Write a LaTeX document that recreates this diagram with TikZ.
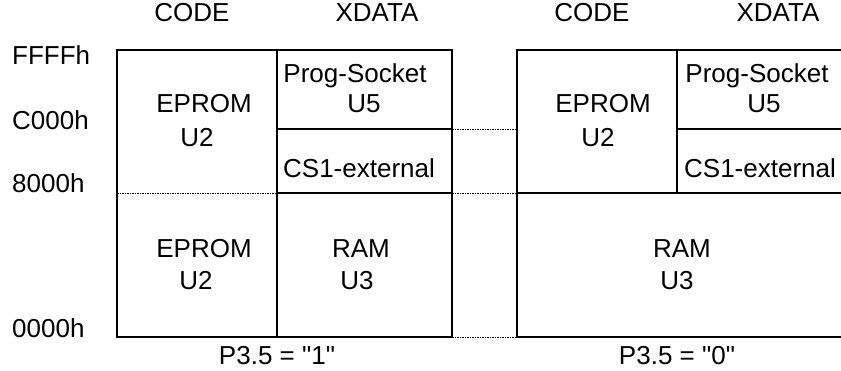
\documentclass[tikz,border=0pt]{standalone}
\usepackage{fontspec}
\setmainfont{Liberation Sans}[Ligatures=TeXOff]
\begin{document}
\begin{tikzpicture}[x=1pt,y=-1pt,
  frame/.style={line width=2pt},
  divider/.style={line width=1.5pt},
  dotline/.style={line width=0.8pt, dash pattern=on 1.6pt off 0.9pt},
  lbl/.style={inner sep=0pt, anchor=base, font=\fontsize{26}{31}\selectfont},
  addr/.style={lbl, anchor=base west}]
\useasboundingbox (0,0) rectangle (841,371);

% ---- memory map for P3.5 = "1" ----
\coordinate (aTL) at (117,50);  \coordinate (aTR) at (452,50);
\coordinate (aBL) at (117,337); \coordinate (aBR) at (452,337);
\coordinate (aDT) at (277,50);  \coordinate (aDB) at (277,337);
\coordinate (aC)  at (277,129); \coordinate (aCR) at (452,129);
\coordinate (a8L) at (117,193); \coordinate (a8M) at (277,193);
\coordinate (a8R) at (452,193);
\draw[frame] (aTL) rectangle (aBR);
\draw[divider] (aDT) -- (aDB);
\draw[divider] (aC) -- (aCR);
\draw[divider] (a8M) -- (a8R);
\draw[dotline] (a8L) -- (a8M);

% ---- memory map for P3.5 = "0" ----
\coordinate (bTL) at (517,50);  \coordinate (bTR) at (860,50);
\coordinate (bBL) at (517,337); \coordinate (bBR) at (860,337);
\coordinate (bDT) at (677,50);  \coordinate (bDB) at (677,193);
\coordinate (bCR) at (860,129); \coordinate (bC) at (677,129);
\coordinate (b8L) at (517,193); \coordinate (b8R) at (860,193);
\draw[frame] (bTR) -- (bTL) -- (bBL) -- (bBR);
\draw[divider] (bDT) -- (bDB);
\draw[divider] (bC) -- (bCR);
\draw[divider] (b8L) -- (b8R);

% ---- dotted links between the two maps ----
\coordinate (bCL) at (517,129);
\draw[dotline] (aCR) -- (bCL);
\draw[dotline] (a8R) -- (b8L);
\draw[dotline] (aBR) -- (bBL);

% ---- column headings ----
\node[lbl] (codeA) at (192,22) {CODE};
\node[lbl] (xdataA) at (377,22) {XDATA};
\node[lbl] (codeB) at (592,22) {CODE};
\node[lbl] (xdataB) at (778,22) {XDATA};

% ---- addresses ----
\node[addr] (aFFFF) at (12,65)  {FFFFh};
\node[addr] (aC000) at (12,130) {C000h};
\node[addr] (a8000) at (12,193) {8000h};
\node[addr] (a0000) at (12,338) {0000h};

% ---- left map contents ----
\node[lbl] (epA1) at (204,113) {EPROM};
\node[lbl] (epA1u) at (197,147) {U2};
\node[lbl] (psA) at (355,83) {Prog-Socket};
\node[lbl] (psAu) at (364,113) {U5};
\node[lbl] (csA) at (359,178) {CS1-external};
\node[lbl] (epA2) at (204,258) {EPROM};
\node[lbl] (epA2u) at (196,290) {U2};
\node[lbl] (ramA) at (361,258) {RAM};
\node[lbl] (ramAu) at (357,290) {U3};

% ---- right map contents ----
\node[lbl] (epB) at (603,113) {EPROM};
\node[lbl] (epBu) at (598,147) {U2};
\node[lbl] (psB) at (757,83) {Prog-Socket};
\node[lbl] (psBu) at (764,113) {U5};
\node[lbl] (csB) at (760,178) {CS1-external};
\node[lbl] (ramB) at (682,258) {RAM};
\node[lbl] (ramBu) at (677,290) {U3};

% ---- port pin states ----
\node[lbl] (pinA) at (277,365) {P3.5 = "1"};
\node[lbl] (pinB) at (677,365) {P3.5 = "0"};
\end{tikzpicture}
\end{document}
